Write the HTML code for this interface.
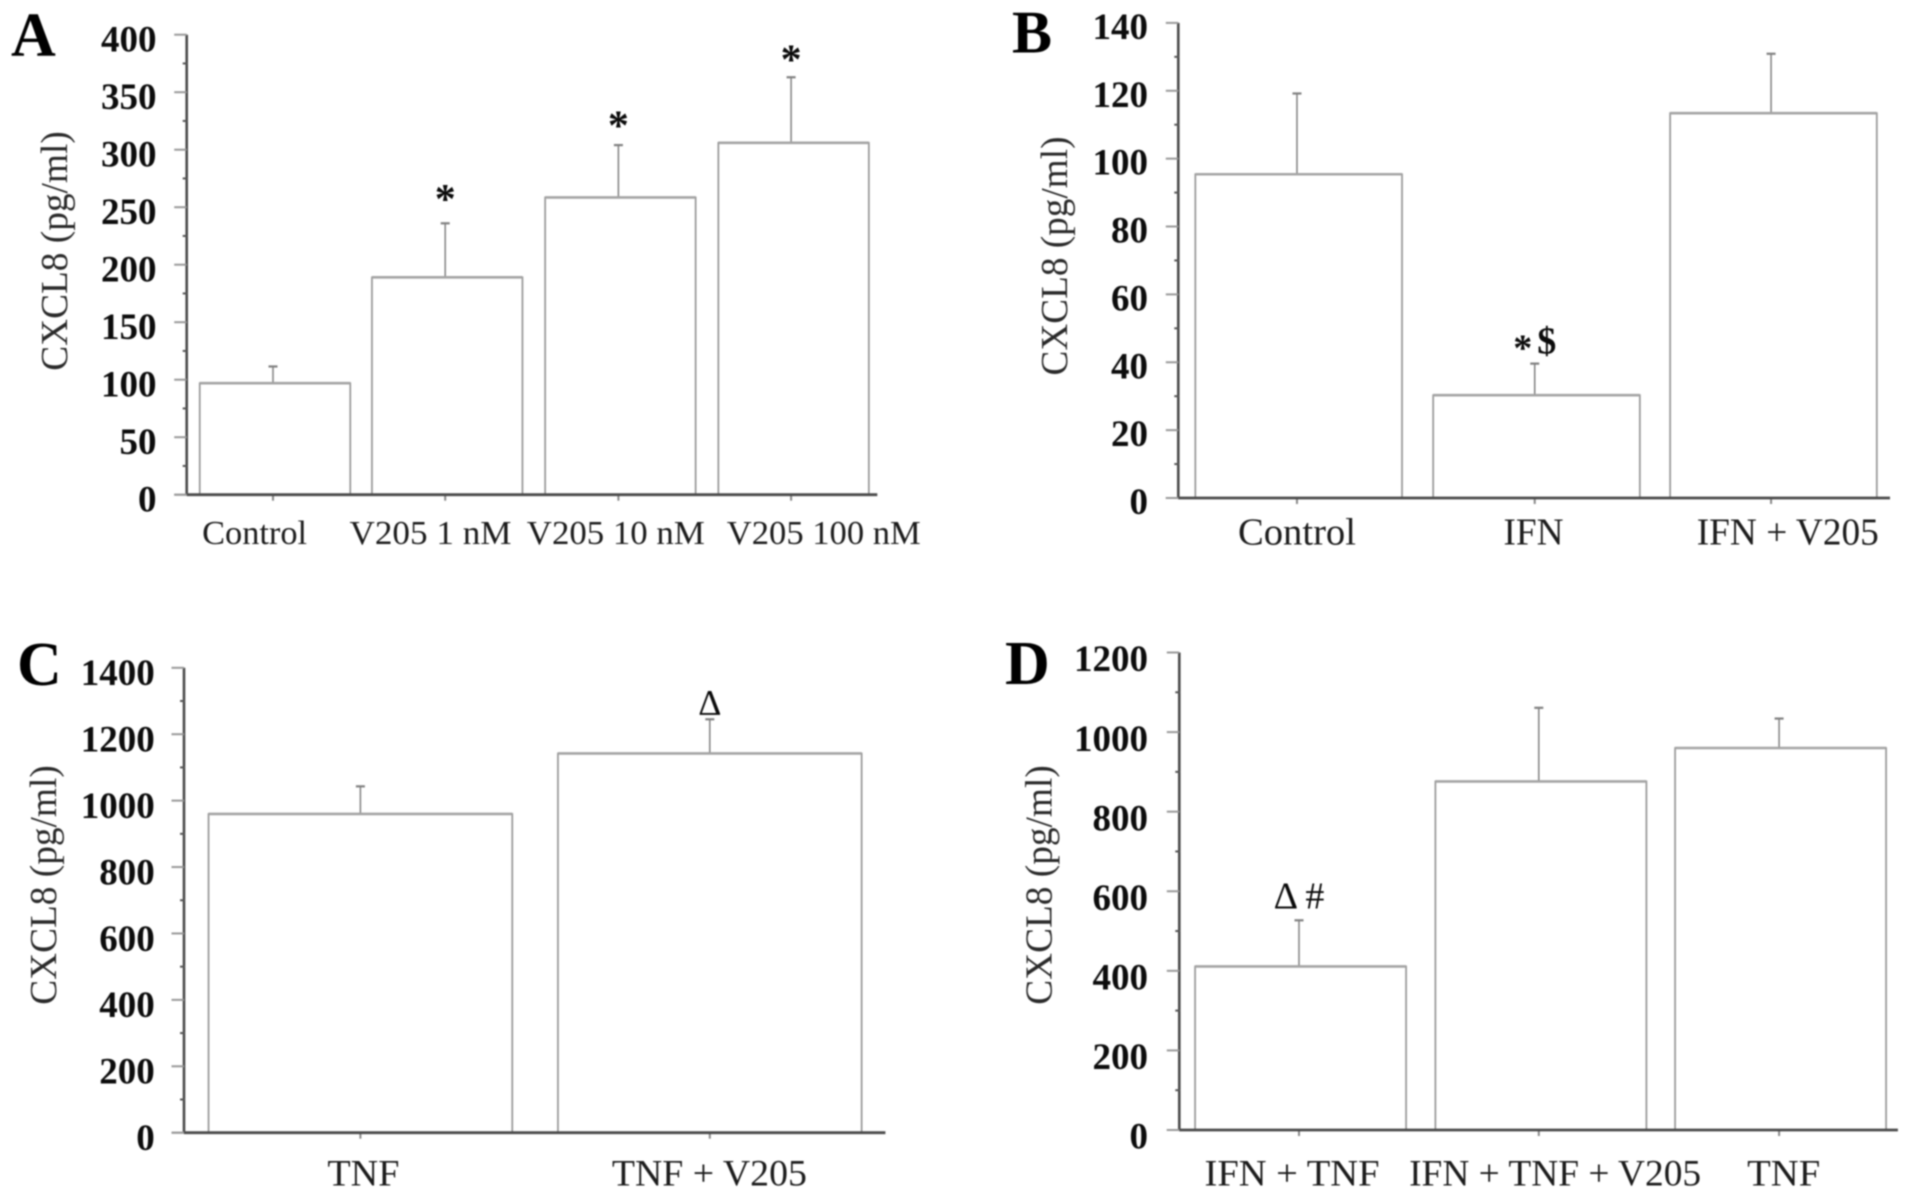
<!DOCTYPE html>
<html lang="en">
<head>
<meta charset="utf-8">
<title>CXCL8 bar charts</title>
<style>
  html, body { margin: 0; padding: 0; background: #fff; }
  #figure { display: block; width: 1913px; height: 1198px; filter: blur(0.9px); }
  text { font-family: "Liberation Serif", serif; }
</style>
</head>
<body>
<svg id="figure" xmlns="http://www.w3.org/2000/svg" width="1913" height="1198" viewBox="0 0 1913 1198"></svg>
<script>
// ---- Panel A data ----
const categoriesA = ['Control', 'V205 1 nM', 'V205 10 nM', 'V205 100 nM'];
const valuesA = [97, 189, 258.5, 306];
const errorTopsA = [111.5, 236, 304, 363];
const ticksA = [0, 50, 100, 150, 200, 250, 300, 350, 400];
const annotationsA = ['', '*', '*', '*'];

// ---- Panel B data ----
const categoriesB = ['Control', 'IFN', 'IFN + V205'];
const valuesB = [95.4, 30.3, 113.4];
const errorTopsB = [119.2, 39.6, 130.9];
const ticksB = [0, 20, 40, 60, 80, 100, 120, 140];
const annotationsB = ['', '*$', ''];

// ---- Panel C data ----
const categoriesC = ['TNF', 'TNF + V205'];
const valuesC = [960, 1142];
const errorTopsC = [1043, 1245];
const ticksC = [0, 200, 400, 600, 800, 1000, 1200, 1400];
const annotationsC = ['', '\u0394'];

// ---- Panel D data ----
const categoriesD = ['IFN + TNF', 'IFN + TNF + V205', 'TNF'];
const valuesD = [411, 876, 960];
const errorTopsD = [527, 1061, 1034];
const ticksD = [0, 200, 400, 600, 800, 1000, 1200];
const annotationsD = ['\u0394 #', '', ''];

// ---- Layout (geometry only, kept apart from the data) ----
const layoutA = {
  key: 'a', letter: 'A', letterX: 11, letterY: 55.5, letterSize: 62,
  axisX: 186.7, top: 34.7, base: 494.7, right: 877.3, bandStart: 185.4, bandStep: 173.2, barW: 150.5,
  barNudge: [3, 2, 2, 2], errNudge: [1, 0, 0, -0.5],
  tickLabelRight: 156.5, tickLabelDy: 16.8, titleX: 67, titleY: 251, titleLen: 239.5,
  labelY: 544, labelSize: 34, labelNudge: [-17.4, -14.7, -2.6, 32.2], labelLen: [105, 162, 178, 194],
  annSize: 42, annWeight: 'bold', annGap: [0, 10.5, 5.5, 4], starDrop: 0
};
const layoutB = {
  key: 'b', letter: 'B', letterX: 1012, letterY: 52.7, letterSize: 60,
  axisX: 1178.3, top: 22.9, base: 498, right: 1890, bandStart: 1176.6, bandStep: 238.75, barW: 206.7,
  barNudge: [2.7, 1.8, 0], errNudge: [1, 0, -2.4],
  tickLabelRight: 1148, tickLabelDy: 16, titleX: 1066.8, titleY: 256, titleLen: 239,
  labelY: 544.5, labelSize: 38, labelNudge: [1, -1.2, 14.3], labelLen: [118, 60, 182],
  annSize: 38, annWeight: 'bold', annGap: [0, 10, 0], starDrop: 7
};
const layoutC = {
  key: 'c', letter: 'C', letterX: 17, letterY: 685, letterSize: 62,
  axisX: 184, top: 667.8, base: 1132.7, right: 885.4, bandStart: 185.7, bandStep: 349.4, barW: 303.7,
  barNudge: [0, 0], errNudge: [0, 0],
  tickLabelRight: 154.7, tickLabelDy: 17.3, titleX: 56.1, titleY: 885, titleLen: 239.5,
  labelY: 1185.3, labelSize: 37, labelNudge: [3, -0.4], labelLen: [72, 195],
  annSize: 36, annWeight: 'normal', annGap: [0, 5], starDrop: 0
};
const layoutD = {
  key: 'd', letter: 'D', letterX: 1005, letterY: 683.8, letterSize: 62,
  axisX: 1179.3, top: 652.5, base: 1130, right: 1897.9, bandStart: 1178.85, bandStep: 240.3, barW: 211,
  barNudge: [1.6, 1.6, 1], errNudge: [0, -0.5, -0.5],
  tickLabelRight: 1148, tickLabelDy: 18.7, titleX: 1051.5, titleY: 885, titleLen: 239.5,
  labelY: 1185.3, labelSize: 37, labelNudge: [-7, 15.8, 4.1], labelLen: [175, 292, 73],
  annSize: 38, annWeight: 'normal', annGap: [12, 0, 0], starDrop: 0
};

const svg = document.getElementById('figure');
const NS = 'http://www.w3.org/2000/svg';

function make(parent, tag, attrs, content) {
  const el = document.createElementNS(NS, tag);
  Object.keys(attrs).forEach(function (k) { el.setAttribute(k, attrs[k]); });
  if (content !== undefined) el.textContent = content;
  parent.appendChild(el);
  return el;
}

function drawPanel(layout, categories, values, errorTops, ticks, annotations) {
  const maxTick = ticks[ticks.length - 1];
  const step = ticks[1] - ticks[0];
  const yScale = function (v) { return layout.base - (v / maxTick) * (layout.base - layout.top); };
  const xBand = function (i) { return layout.bandStart + layout.bandStep * (i + 0.5); };

  const group = make(svg, 'g', {});
  
  

  const letter = make(group, 'text', {
    x: layout.letterX, y: layout.letterY, 'font-size': layout.letterSize, 'font-weight': 'bold', fill: '#000'
  }, layout.letter);
  
  

  const title = make(group, 'text', {
    transform: 'translate(' + layout.titleX + ',' + layout.titleY + ') rotate(-90)',
    'text-anchor': 'middle', 'font-size': 38, fill: '#2a2a2a',
    textLength: layout.titleLen, lengthAdjust: 'spacingAndGlyphs'
  }, 'CXCL8 (pg/ml)');
  
  

  // Bars and error bars
  values.forEach(function (value, i) {
    const cx = xBand(i);
    const barX = cx + layout.barNudge[i];
    const errX = cx + layout.errNudge[i];
    const yTop = yScale(value);
    const yErr = yScale(errorTops[i]);

    const errLine = make(group, 'line', { x1: errX, x2: errX, y1: yTop, y2: yErr, stroke: '#808080', 'stroke-width': 1.5 });
    
    

    const errCap = make(group, 'line', { x1: errX - 4.5, x2: errX + 4.5, y1: yErr, y2: yErr, stroke: '#808080', 'stroke-width': 2.2 });
    
    

    const bar = make(group, 'rect', {
      x: barX - layout.barW / 2, y: yTop, width: layout.barW, height: layout.base - yTop,
      fill: '#fff', stroke: '#969696', 'stroke-width': 1.7
    });
    
    

    const barTop = make(group, 'line', {
      x1: barX - layout.barW / 2, x2: barX + layout.barW / 2, y1: yTop, y2: yTop, stroke: '#a4a4a4', 'stroke-width': 2.6
    });
    
    

    const catTick = make(group, 'line', {
      x1: errX, x2: errX, y1: layout.base, y2: layout.base + 6, stroke: '#888', 'stroke-width': 2
    });
    
    

    const label = make(group, 'text', {
      x: cx + layout.labelNudge[i], y: layout.labelY, 'text-anchor': 'middle',
      'font-size': layout.labelSize, fill: '#1c1c1c',
      textLength: layout.labelLen[i], lengthAdjust: 'spacingAndGlyphs'
    }, categories[i]);
    
    

    if (annotations[i]) {
      const ann = make(group, 'text', {
        x: errX, y: yErr - layout.annGap[i], 'text-anchor': 'middle',
        'font-size': layout.annSize, 'font-weight': layout.annWeight, fill: '#0a0a0a'
      });
      
      
      if (layout.starDrop && annotations[i].indexOf('*') === 0) {
        make(ann, 'tspan', { dy: layout.starDrop }, '*');
        make(ann, 'tspan', { dy: -layout.starDrop, dx: 5 }, annotations[i].slice(1));
      } else {
        ann.textContent = annotations[i];
      }
    }
  });

  // Y axis
  const yAxis = make(group, 'line', {
    x1: layout.axisX, x2: layout.axisX, y1: layout.top, y2: layout.base, stroke: '#4a4a4a', 'stroke-width': 2.6
  });
  
  

  ticks.forEach(function (tick, i) {
    const y = yScale(tick);
    const major = make(group, 'line', {
      x1: layout.axisX - 12.5, x2: layout.axisX, y1: y, y2: y, stroke: '#999', 'stroke-width': 2
    });
    
    

    const text = make(group, 'text', {
      x: layout.tickLabelRight, y: y + layout.tickLabelDy, 'text-anchor': 'end',
      'font-size': 37, 'font-weight': 'bold', fill: '#0c0c0c'
    }, String(tick));
    
    

    if (i < ticks.length - 1) {
      const yMinor = yScale(tick + step / 2);
      const minor = make(group, 'line', {
        x1: layout.axisX - 4, x2: layout.axisX + 1, y1: yMinor, y2: yMinor, stroke: '#555', 'stroke-width': 2
      });
      
      
    }
  });

  // X axis
  const xAxis = make(group, 'line', {
    x1: layout.axisX, x2: layout.right, y1: layout.base, y2: layout.base, stroke: '#4a4a4a', 'stroke-width': 2.8
  });
  
  

  const xAxisStub = make(group, 'line', {
    x1: layout.axisX - 12.5, x2: layout.axisX, y1: layout.base, y2: layout.base, stroke: '#999', 'stroke-width': 2
  });
  
  
}

drawPanel(layoutA, categoriesA, valuesA, errorTopsA, ticksA, annotationsA);
drawPanel(layoutB, categoriesB, valuesB, errorTopsB, ticksB, annotationsB);
drawPanel(layoutC, categoriesC, valuesC, errorTopsC, ticksC, annotationsC);
drawPanel(layoutD, categoriesD, valuesD, errorTopsD, ticksD, annotationsD);
</script>
</body>
</html>
